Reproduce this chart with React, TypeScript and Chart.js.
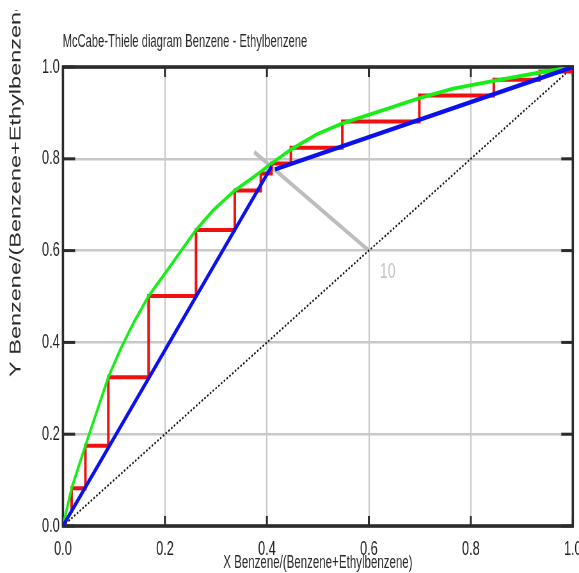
import React, { useEffect, useRef } from "react";
import { Chart, registerables } from "chart.js";

Chart.register(...registerables);

// ---- data ----
const tickValues = [0, 0.2, 0.4, 0.6, 0.8, 1.0];

// equilibrium curve (green)
const eqX = [0, 0.017, 0.044, 0.089, 0.112, 0.138, 0.168, 0.216, 0.261, 0.295, 0.337, 0.37, 0.388, 0.409, 0.447, 0.497, 0.548, 0.628, 0.699, 0.765, 0.845, 0.935, 1.0];
const eqY = [0, 0.082, 0.175, 0.324, 0.383, 0.442, 0.501, 0.575, 0.645, 0.688, 0.731, 0.757, 0.772, 0.79, 0.82, 0.853, 0.877, 0.906, 0.932, 0.953, 0.97, 0.988, 1.0];

// stripping operating line (blue)
const stripX = [0, 0.409];
const stripY = [0, 0.783];
// rectifying operating line (blue)
const rectX = [0.416, 1.0];
const rectY = [0.777, 1.0];

// stage stepping (red)
const stepStartX = 1.0;
const stepStartY = 0.99;
const stageX = [0.935, 0.845, 0.699, 0.548, 0.447, 0.409, 0.388, 0.337, 0.261, 0.168, 0.089, 0.044, 0.017];
const stageY = [0.972, 0.938, 0.881, 0.824, 0.79, 0.768, 0.731, 0.645, 0.501, 0.324, 0.175, 0.082, 0.03];

// feed (q) line (gray)
const qX = [0.375, 0.6];
const qY = [0.815, 0.6];

// diagonal y = x
const diagX = [0, 1];
const diagY = [0, 1];

const feedLabel = "10";
const feedLabelX = 0.637;
const feedLabelY = 0.553;

const titleText = "McCabe-Thiele diagram Benzene - Ethylbenzene";
const xTitle = "X Benzene/(Benzene+Ethylbenzene)";
const yTitle = "Y Benzene/(Benzene+Ethylbenzene)";

// ---- rendering geometry ----
const INTERNAL_W = 905;
const INTERNAL_H = 573;
const FONT = "'Liberation Sans', Arial, sans-serif";

const pts = (xs: number[], ys: number[]) => xs.map((x, i) => ({ x, y: ys[i] }));

function stairs() {
  const p = [{ x: stepStartX, y: stepStartY }];
  let prev = stepStartY;
  for (let i = 0; i < stageX.length; i++) {
    p.push({ x: stageX[i], y: prev });
    p.push({ x: stageX[i], y: stageY[i] });
    prev = stageY[i];
  }
  return p;
}

const decor = {
  id: "decor",
  beforeDatasetsDraw(chart: any) {
    const { ctx, chartArea: a, scales } = chart;
    ctx.save();
    ctx.strokeStyle = "#2b2b2b";
    ctx.lineWidth = 3;
    const seg = (x1: number, y1: number, x2: number, y2: number) => {
      ctx.beginPath();
      ctx.moveTo(x1, y1);
      ctx.lineTo(x2, y2);
      ctx.stroke();
    };
    for (const v of tickValues) {
      const px = scales.x.getPixelForValue(v);
      const py = scales.y.getPixelForValue(v);
      seg(px, a.top, px, a.top + 10);
      seg(px, a.bottom, px, a.bottom - 10);
      seg(a.left, py, a.left + 19, py);
      seg(a.right, py, a.right - 18, py);
    }
    ctx.lineWidth = 3.6;
    ctx.strokeRect(a.left, a.top, a.right - a.left, a.bottom - a.top);
    ctx.restore();
  },
  afterDraw(chart: any) {
    const { ctx, chartArea: a, scales } = chart;
    ctx.save();
    // title
    ctx.fillStyle = "#2a2a2a";
    ctx.font = `17.5px ${FONT}`;
    ctx.textAlign = "left";
    ctx.textBaseline = "alphabetic";
    ctx.fillText(titleText, a.left - 0.5, 47);
    // x title
    ctx.font = `18px ${FONT}`;
    ctx.textAlign = "center";
    ctx.fillText(xTitle, (a.left + a.right) / 2, 568);
    // y title (clipped at the top as in the reference)
    ctx.save();
    ctx.beginPath();
    ctx.rect(0, 10, 80, INTERNAL_H);
    ctx.clip();
    ctx.translate(32, 377);
    ctx.rotate(-Math.PI / 2);
    ctx.textAlign = "left";
    ctx.font = `23.5px ${FONT}`;
    ctx.fillText(yTitle, 0, 0);
    ctx.restore();
    // feed stage label
    ctx.fillStyle = "#c4c4c4";
    ctx.font = `22px ${FONT}`;
    ctx.textAlign = "center";
    ctx.textBaseline = "middle";
    ctx.fillText(feedLabel, scales.x.getPixelForValue(feedLabelX), scales.y.getPixelForValue(feedLabelY));
    ctx.restore();
  },
};

export default function App() {
  const ref = useRef<HTMLCanvasElement | null>(null);

  useEffect(() => {
    if (!ref.current) return;
    const base = { pointRadius: 0, showLine: true, fill: false, tension: 0 };
    const chart = new Chart(ref.current, {
      type: "scatter",
      data: {
        datasets: [
          { ...base, label: "Rectifying", data: pts(rectX, rectY), borderColor: "#0a10ee", borderWidth: 4.5, order: 1 },
          { ...base, label: "Stripping", data: pts(stripX, stripY), borderColor: "#0a10ee", borderWidth: 4.5, order: 2 },
          { ...base, label: "Equilibrium", data: pts(eqX, eqY), borderColor: "#16ee16", borderWidth: 3.8, order: 3 },
          { ...base, label: "Stages", data: stairs(), borderColor: "#f01010", borderWidth: 4, order: 4 },
          { ...base, label: "Diagonal", data: pts(diagX, diagY), borderColor: "#111111", borderWidth: 2, borderDash: [2.5, 2.5], order: 5 },
          { ...base, label: "Feed", data: pts(qX, qY), borderColor: "#bdbdbd", borderWidth: 4.5, order: 6 },
        ],
      },
      options: {
        responsive: false,
        animation: false,
        devicePixelRatio: 1,
        events: [],
        layout: { autoPadding: false, padding: { left: 0, right: INTERNAL_W - 895.3, top: 67, bottom: 0 } },
        plugins: { legend: { display: false }, tooltip: { enabled: false }, title: { display: false } },
        scales: {
          x: {
            type: "linear",
            min: 0,
            max: 1,
            afterBuildTicks: (s: any) => { s.ticks = tickValues.map((v) => ({ value: v })); },
            afterFit: (s: any) => {
              s.height = INTERNAL_H - 526;
              s.paddingLeft = 0;
              s.paddingRight = 0;
            },
            grid: { color: "#c8c8c8", lineWidth: 2, drawTicks: false },
            border: { display: false },
            ticks: {
              padding: 11,
              color: "#222",
              font: { family: FONT, size: 20 },
              maxRotation: 0,
              autoSkip: false,
              callback: (v: any) => Number(v).toFixed(1),
            },
          },
          y: {
            type: "linear",
            min: 0,
            max: 1,
            afterBuildTicks: (s: any) => { s.ticks = tickValues.map((v) => ({ value: v })); },
            afterFit: (s: any) => {
              s.width = 98.4;
              s.paddingTop = 0;
              s.paddingBottom = 0;
            },
            grid: { color: "#c8c8c8", lineWidth: 2.5, drawTicks: false },
            border: { display: false },
            ticks: {
              padding: 5,
              color: "#222",
              font: { family: FONT, size: 20 },
              autoSkip: false,
              callback: (v: any) => Number(v).toFixed(1),
            },
          },
        },
      },
      plugins: [decor],
    } as any);
    return () => chart.destroy();
  }, []);

  return (
    <div style={{ position: "fixed", left: 0, top: 0, width: 579, height: 573, background: "#fff" }}>
      <canvas
        ref={ref}
        width={INTERNAL_W}
        height={INTERNAL_H}
        style={{ display: "block", width: "579px", height: "573px" }}
      />
    </div>
  );
}
